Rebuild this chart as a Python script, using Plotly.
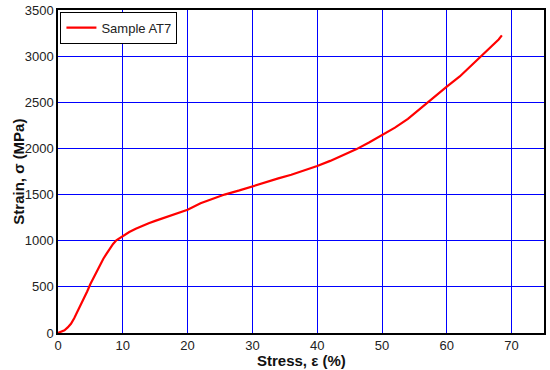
import plotly.graph_objects as go

strain_pct = [0, 0.5, 1, 1.5, 2, 2.5, 3, 3.5, 4, 4.5, 5, 5.5, 6, 6.5, 7, 7.5, 8, 8.5, 9, 9.5,
              10, 11, 12, 13, 14, 15, 16, 18, 20, 22, 24, 25.7, 28, 30, 32, 34, 36, 38,
              40, 42, 44, 46, 48, 50, 52, 54, 56, 58, 60, 62, 64, 65.3, 66, 68, 68.5]
stress_mpa = [0, 12, 30, 60, 100, 160, 230, 300, 375, 450, 530, 600, 670, 740, 805, 860, 915, 965, 1005, 1030,
              1045, 1095, 1130, 1162, 1190, 1215, 1240, 1290, 1335, 1405, 1460, 1500, 1545, 1590, 1630, 1675, 1715, 1760,
              1810, 1865, 1925, 1990, 2065, 2145, 2225, 2320, 2440, 2560, 2670, 2780, 2910, 3000, 3050, 3180, 3225]

x_ticks = [0, 10, 20, 30, 40, 50, 60, 70]
y_ticks = [0, 500, 1000, 1500, 2000, 2500, 3000, 3500]

fig = go.Figure()
fig.add_trace(go.Scatter(x=strain_pct, y=stress_mpa, mode="lines", name="Sample AT7",
                         line=dict(color="#ff0000", width=2.2)))

font_family = "Liberation Sans, Arial, sans-serif"
fig.update_layout(
    width=550, height=370,
    margin=dict(l=58, r=6, t=10, b=37, autoexpand=False),
    paper_bgcolor="white", plot_bgcolor="white",
    font=dict(family=font_family, size=13, color="#222222"),
    showlegend=True,
    legend=dict(x=0.005, y=0.995, xanchor="left", yanchor="top",
                bgcolor="white", bordercolor="black", borderwidth=1,
                font=dict(size=13, color="#222222")),
    annotations=[
        dict(text="<b>Stress, ε (%)</b>", xref="paper", yref="paper", x=0.5, y=-0.084,
             xanchor="center", yanchor="middle", showarrow=False,
             font=dict(size=15, color="#111111")),
        dict(text="<b>Strain, σ (MPa)</b>", xref="paper", yref="paper", x=-0.082, y=0.5,
             xanchor="center", yanchor="middle", showarrow=False, textangle=-90,
             font=dict(size=15, color="#111111")),
    ],
)
fig.update_xaxes(range=[0, 75], tickvals=x_ticks, showgrid=True, gridcolor="#0000ff", gridwidth=1.3,
                 zeroline=False, showline=True, linecolor="black", linewidth=1.5, mirror=True,
                 ticks="", ticklabelstandoff=0, automargin=False)
fig.update_yaxes(range=[0, 3500], tickvals=y_ticks, showgrid=True, gridcolor="#0000ff", gridwidth=1.3,
                 zeroline=False, showline=True, linecolor="black", linewidth=1.5, mirror=True,
                 ticks="", automargin=False)

fig.write_html("out.html", config={"displayModeBar": False},
               post_script="document.body.style.margin='0';document.body.style.overflow='hidden';")
